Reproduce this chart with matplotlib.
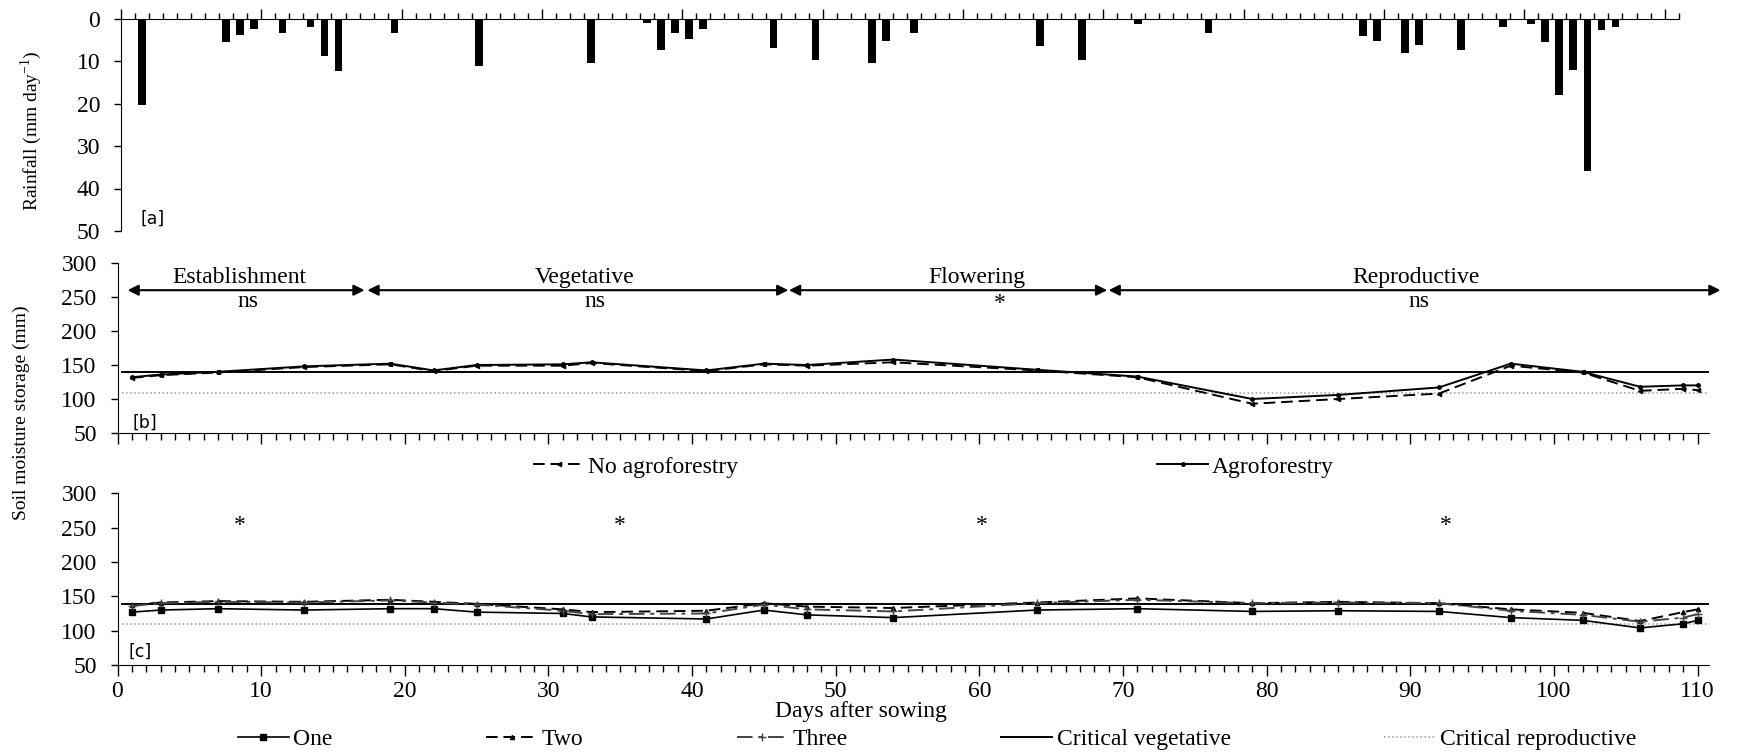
import numpy as np
import matplotlib
matplotlib.use("Agg")
import matplotlib.pyplot as plt

plt.rcParams['font.family'] = ['Liberation Serif', 'DejaVu Serif']
plt.rcParams['font.size'] = 17
plt.rcParams['mathtext.fontset'] = 'custom'
plt.rcParams['mathtext.rm'] = 'Liberation Serif'

# rainfall (mm/day), day after sowing
rain_days = [1, 7, 8, 9, 11, 13, 14, 15, 19, 25, 33, 37, 38, 39, 40, 41, 46, 49,
             53, 54, 56, 65, 68, 72, 77, 88, 89, 91, 92, 95, 98, 100, 101, 102,
             103, 104, 105, 106]
rain_mm = [20.3, 5.6, 3.8, 2.4, 3.5, 2.1, 8.8, 12.3, 3.5, 11.2, 10.4, 1.0, 7.4,
           3.5, 4.9, 2.4, 7.0, 9.8, 10.4, 5.3, 3.5, 6.4, 9.8, 1.4, 3.5, 4.2, 5.3,
           8.2, 6.3, 7.3, 2.1, 1.4, 5.5, 18.0, 12.2, 35.8, 2.8, 2.1]

# soil moisture sampling days
days = [1, 3, 7, 13, 19, 22, 25, 31, 33, 41, 45, 48, 54, 64, 71, 79, 85, 92,
        97, 102, 106, 109, 110]

# [b] agroforestry vs none
agro = [132, 136, 140, 148, 152, 142, 150, 151, 154, 142, 152, 150, 158, 143,
        133, 100, 106, 117, 152, 140, 118, 120, 120]
no_agro = [131, 135, 139, 147, 151, 141, 149, 149, 153, 141, 151, 149, 154,
           142, 132, 93, 100, 108, 149, 139, 112, 115, 113]

# [c] number of ...
one = [127, 130, 132, 130, 132, 132, 127, 125, 120, 117, 130, 123, 119, 130,
       132, 128, 129, 128, 119, 115, 104, 110, 115]
two = [137, 141, 143, 142, 145, 142, 139, 131, 127, 129, 140, 135, 133, 141,
       147, 140, 142, 140, 131, 126, 114, 127, 131]
three = [136, 140, 142, 141, 144, 141, 138, 129, 124, 125, 138, 131, 128, 140,
         145, 140, 141, 140, 129, 123, 113, 119, 124]

crit_veg = 139
crit_rep = 109

# growth phases
phases = ['Establishment', 'Vegetative', 'Flowering', 'Reproductive']
phase_start = [0.7, 17.4, 46.75, 69.0]
phase_end = [17.2, 46.7, 68.9, 111.6]
phase_sig = ['ns', 'ns', '*', 'ns']
phase_label_x = [8.45, 32.55, 59.8, 90.4]
phase_sig_x = [9.06, 33.25, 61.4, 90.6]

# significance in [c]
c_sig = ['*', '*', '*', '*']
c_sig_x = [8.5, 35.0, 60.2, 92.5]

W, H = 1737, 752
fig = plt.figure(figsize=(W / 100, H / 100), dpi=100)

ax_a = fig.add_axes([121 / W, 1 - 231 / H, (1678.6 - 121) / W, 212.5 / H])
ax_b = fig.add_axes([117.5 / W, 1 - 433 / H, 1591.5 / W, 170 / H])
ax_c = fig.add_axes([117.5 / W, 1 - 665 / H, 1591.5 / W, 171.7 / H])

# ---- [a] rainfall
ax_a.bar(rain_days, rain_mm, width=0.55, color='black')
ax_a.set_xlim(-0.5, 110.5)
ax_a.set_ylim(50, 0)
ax_a.xaxis.tick_top()
ax_a.set_xticks(np.arange(-0.5, 111, 10))
ax_a.set_xticks(np.arange(-0.5, 111, 1), minor=True)
ax_a.tick_params(axis='x', which='major', length=7, width=1, labeltop=False)
ax_a.tick_params(axis='x', which='minor', length=4, width=1)
ax_a.set_yticks(np.arange(0, 51, 10))
ax_a.tick_params(axis='y', length=5, width=1, pad=10)
ax_a.spines['bottom'].set_visible(False)
ax_a.spines['right'].set_visible(False)
ax_a.text(0.0128, 0.0565, '[a]', transform=ax_a.transAxes, family='DejaVu Sans',
          fontsize=12.5, va='center', ha='left')

# ---- [b] and [c] common axis styling
for ax in (ax_b, ax_c):
    ax.set_xlim(0, 110.8)
    ax.set_ylim(50, 300)
    ax.set_yticks(np.arange(50, 301, 50))
    ax.set_xticks(np.arange(0, 111, 10))
    ax.set_xticks(np.arange(0, 111, 1), minor=True)
    ax.tick_params(axis='x', which='major', length=8, width=1)
    ax.tick_params(axis='x', which='minor', length=5, width=1)
    ax.tick_params(axis='y', length=5, width=1, pad=10)
    ax.spines['top'].set_visible(False)
    ax.spines['right'].set_visible(False)
    ax.axhline(crit_veg, xmin=0.003, color='black', lw=1.4)
    ax.axhline(crit_rep, xmin=0.003, color='#9a9a9a', ls=':', lw=1.1)

l_no, = ax_b.plot(days, no_agro, color='black', ls=(0, (6, 3)), lw=1.4,
                  marker='<', ms=3, label='No agroforestry')
l_ag, = ax_b.plot(days, agro, color='black', ls='-', lw=1.4,
                  marker='o', ms=2.5, label='Agroforestry')
ax_b.tick_params(axis='x', labelbottom=False)
ax_b.text(0.0097, 0.059, '[b]', transform=ax_b.transAxes, family='DejaVu Sans',
          fontsize=12.5, va='center', ha='left')

for name, s, e, sig, lx, sx in zip(phases, phase_start, phase_end, phase_sig,
                                   phase_label_x, phase_sig_x):
    ax_b.annotate('', xy=(e, 260), xytext=(s, 260), annotation_clip=False,
                  arrowprops=dict(arrowstyle='<|-|>', color='black', lw=1.5,
                                  mutation_scale=16, shrinkA=0, shrinkB=0))
    ax_b.text(lx, 271, name, ha='center', va='baseline')
    ax_b.text(sx, 236 if sig != '*' else 232, sig, ha='center', va='baseline')

l_one, = ax_c.plot(days, one, color='black', ls='-', lw=1.2, marker='s', ms=4,
                   label='One')
l_two, = ax_c.plot(days, two, color='black', ls=(0, (6, 3)), lw=1.4,
                   marker='^', ms=3, label='Two')
l_three, = ax_c.plot(days, three, color='#444444', ls=(0, (8, 3, 2, 3)), lw=1.4,
                     marker='+', ms=6, label='Three')
ax_c.text(0.0072, 0.077, '[c]', transform=ax_c.transAxes, family='DejaVu Sans',
          fontsize=12.5, va='center', ha='left')
for sig, sx in zip(c_sig, c_sig_x):
    ax_c.text(sx, 245, sig, ha='center', va='baseline')
ax_c.set_xlabel('Days after sowing', labelpad=2)
ax_c.xaxis.set_label_coords((860.5 - 117.5) / 1591.5, -(711.7 - 665) / 171.7)
ax_c.xaxis.label.set_va('center')

veg_line = plt.Line2D([], [], color='black', lw=1.4)
rep_line = plt.Line2D([], [], color='#9a9a9a', ls=':', lw=1.1)

fig.legend([l_no, l_ag], ['No agroforestry', 'Agroforestry'], loc='center left',
           bbox_to_anchor=(533 / W, 1 - 467 / H), ncol=2, frameon=False,
           borderpad=0, borderaxespad=0, handlelength=2.2, handletextpad=0.15,
           columnspacing=17.7)
fig.legend([l_one, l_two, l_three, veg_line, rep_line],
           ['One', 'Two', 'Three', 'Critical vegetative', 'Critical reproductive'],
           loc='center left', bbox_to_anchor=(238 / W, 1 - 739 / H), ncol=5,
           frameon=False, borderpad=0, borderaxespad=0, handlelength=2.15,
           handletextpad=0.2, columnspacing=6.5)

fig.text(31 / W, 1 - 131 / H, 'Rainfall (mm day$^{-1}$)', rotation=90,
         ha='center', va='center', fontsize=14)
fig.text(21 / W, 1 - 413 / H, 'Soil moisture storage (mm)', rotation=90,
         ha='center', va='center', fontsize=14)

fig.savefig('out.png', dpi=100)
